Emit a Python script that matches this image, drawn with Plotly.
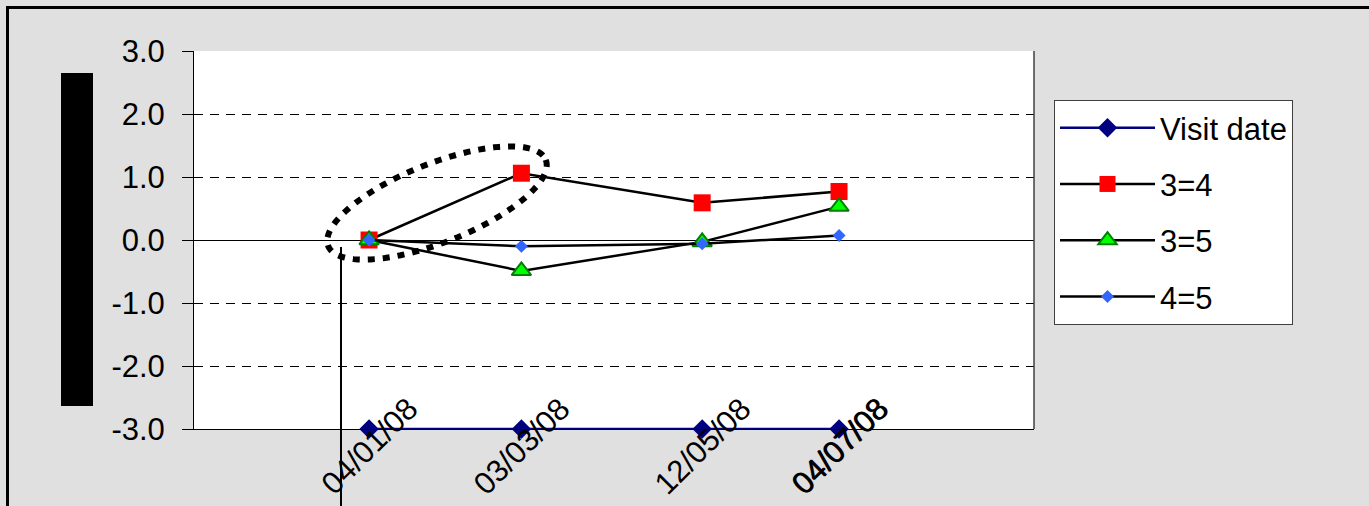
import math
import plotly.graph_objects as go

# ---- data ----
visit_dates = ["2008-01-04", "2008-03-03", "2008-05-12", "2008-07-04"]
date_labels = ["04/01/08", "03/03/08", "12/05/08", "04/07/08"]
visit_y = [-3, -3, -3, -3]
s34 = [0.0, 1.06, 0.59, 0.77]
s35 = [0.0, -0.49, -0.03, 0.53]
s45 = [0.0, -0.10, -0.06, 0.07]
y_ticks = [3, 2, 1, 0, -1, -2, -3]
y_tick_text = ["3.0", "2.0", "1.0", "0.0", "-1.0", "-2.0", "-3.0"]

W, H = 1369, 506
L, R, T, B = 194, 1034, 51, 429
FONT = "Liberation Sans, Arial, sans-serif"


def px(x):
    return (x - L) / (R - L)


def py(y):
    return (B - y) / (B - T)


fig = go.Figure()
fig.add_trace(go.Scatter(
    x=visit_dates, y=visit_y, name="Visit date", mode="lines+markers",
    line=dict(color="#000080", width=2.5),
    marker=dict(symbol="diamond", size=15, color="#000080"),
    legendgroup="a", cliponaxis=False))
fig.add_trace(go.Scatter(
    x=visit_dates, y=s34, name="3=4", mode="lines+markers",
    line=dict(color="black", width=2.5),
    marker=dict(symbol="square", size=17, color="#ff0000"),
    legendgroup="b"))
fig.add_trace(go.Scatter(
    x=visit_dates, y=s35, name="3=5", mode="lines+markers",
    line=dict(color="black", width=2.5),
    marker=dict(symbol="triangle-up", size=17, color="#00ff00",
                line=dict(color="#008000", width=2)),
    legendgroup="c"))
fig.add_trace(go.Scatter(
    x=visit_dates, y=s45, name="4=5", mode="lines+markers",
    line=dict(color="black", width=2.5),
    marker=dict(symbol="diamond", size=10, color="#3366ff"),
    legendgroup="d"))

# rotated x labels centred on the visit dates
annotations = []
for i, (d, lab) in enumerate(zip(visit_dates, date_labels)):
    shifts = [0, 1] if i == len(visit_dates) - 1 else [0]
    for sh in shifts:
        annotations.append(dict(
            x=d, y=0, xref="x", yref="paper", text=lab, showarrow=False,
            textangle=-45, xanchor="center", yanchor="middle", yshift=-17,
            xshift=sh, font=dict(family=FONT, size=31, color="black")))

# dotted ellipse (rotated)
cx, cy, a, b, ang = 437, 203, 117, 39.5, math.radians(21.6)
pts = []
for k in range(121):
    t = 2 * math.pi * k / 120
    ex = cx + a * math.cos(t) * math.cos(ang) + b * math.sin(t) * math.sin(ang)
    ey = cy - a * math.cos(t) * math.sin(ang) + b * math.sin(t) * math.cos(ang)
    pts.append((px(ex), py(ey)))
path = "M" + " L".join(f"{x:.5f},{y:.5f}" for x, y in pts) + " Z"

shapes = [
    dict(type="line", xref="paper", yref="paper", x0=1, x1=1, y0=0, y1=1,
         line=dict(color="#404040", width=1.5), layer="above"),
    dict(type="line", xref="paper", yref="paper", x0=px(7.5), x1=px(7.5),
         y0=py(7.5), y1=py(H + 5), line=dict(color="black", width=3)),
    dict(type="line", xref="paper", yref="paper", x0=px(6), x1=px(W + 5),
         y0=py(7.5), y1=py(7.5), line=dict(color="black", width=3)),
    dict(type="rect", xref="paper", yref="paper", x0=px(61), x1=px(93),
         y0=py(406), y1=py(73), fillcolor="black", line=dict(width=0)),
    dict(type="line", xref="paper", yref="paper", x0=px(341), x1=px(341),
         y0=py(247), y1=py(H + 5), line=dict(color="black", width=2)),
    dict(type="path", xref="paper", yref="paper", path=path,
         line=dict(color="black", width=6, dash="7px,8px")),
]

fig.update_layout(
    width=W, height=H,
    margin=dict(l=L, r=W - R, t=T, b=H - B, pad=0),
    paper_bgcolor="#e0e0e0", plot_bgcolor="white",
    font=dict(family=FONT, size=30, color="black"),
    showlegend=True,
    legend=dict(x=px(1054), y=py(100), xanchor="left", yanchor="top",
                bgcolor="white", bordercolor="#404040", borderwidth=1,
                font=dict(family=FONT, size=31, color="black"),
                tracegroupgap=13, itemwidth=95),
    annotations=annotations, shapes=shapes,
)
fig.update_xaxes(
    type="date", range=["2007-10-28 05:00", "2008-09-17 12:00"],
    showgrid=False, zeroline=False, showticklabels=False, ticks="",
    showline=True, linecolor="black", linewidth=1)
fig.update_yaxes(
    range=[-3, 3], tickvals=y_ticks, ticktext=y_tick_text,
    showgrid=True, gridcolor="black", gridwidth=1, griddash="9px,7px",
    zeroline=True, zerolinecolor="black", zerolinewidth=1,
    showline=True, linecolor="black", linewidth=1,
    ticks="outside", ticklen=11, tickcolor="black",
    ticklabelstandoff=11, tickfont=dict(family=FONT, size=31))

fig.write_html("out.html", config={"displayModeBar": False},
               post_script="document.body.style.margin='0px';")
